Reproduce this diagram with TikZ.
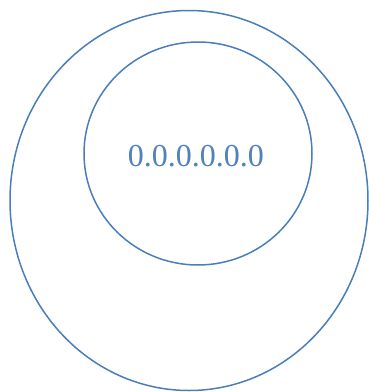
\documentclass[tikz,border=0pt]{standalone}
\usepackage{fontspec}
\setmainfont{Liberation Serif}
\definecolor{ringblue}{HTML}{4A7EBB}
\definecolor{textblue}{HTML}{4F81BD}
\begin{document}
\begin{tikzpicture}[x=1pt,y=-1pt,
  ring/.style={draw=ringblue,line width=1.5pt},
  lbl/.style={text=textblue,font=\fontsize{32}{36}\selectfont,inner sep=0pt}]
\useasboundingbox (0,0) rectangle (368,392);
\draw[ring] (189,200.5) ellipse [x radius=179, y radius=190];
\draw[ring] (198,153.5) ellipse [x radius=114, y radius=111.5];
\node[lbl,anchor=base] (t) at (196,166) {0.0.0.0.0.0};
\end{tikzpicture}
\end{document}
